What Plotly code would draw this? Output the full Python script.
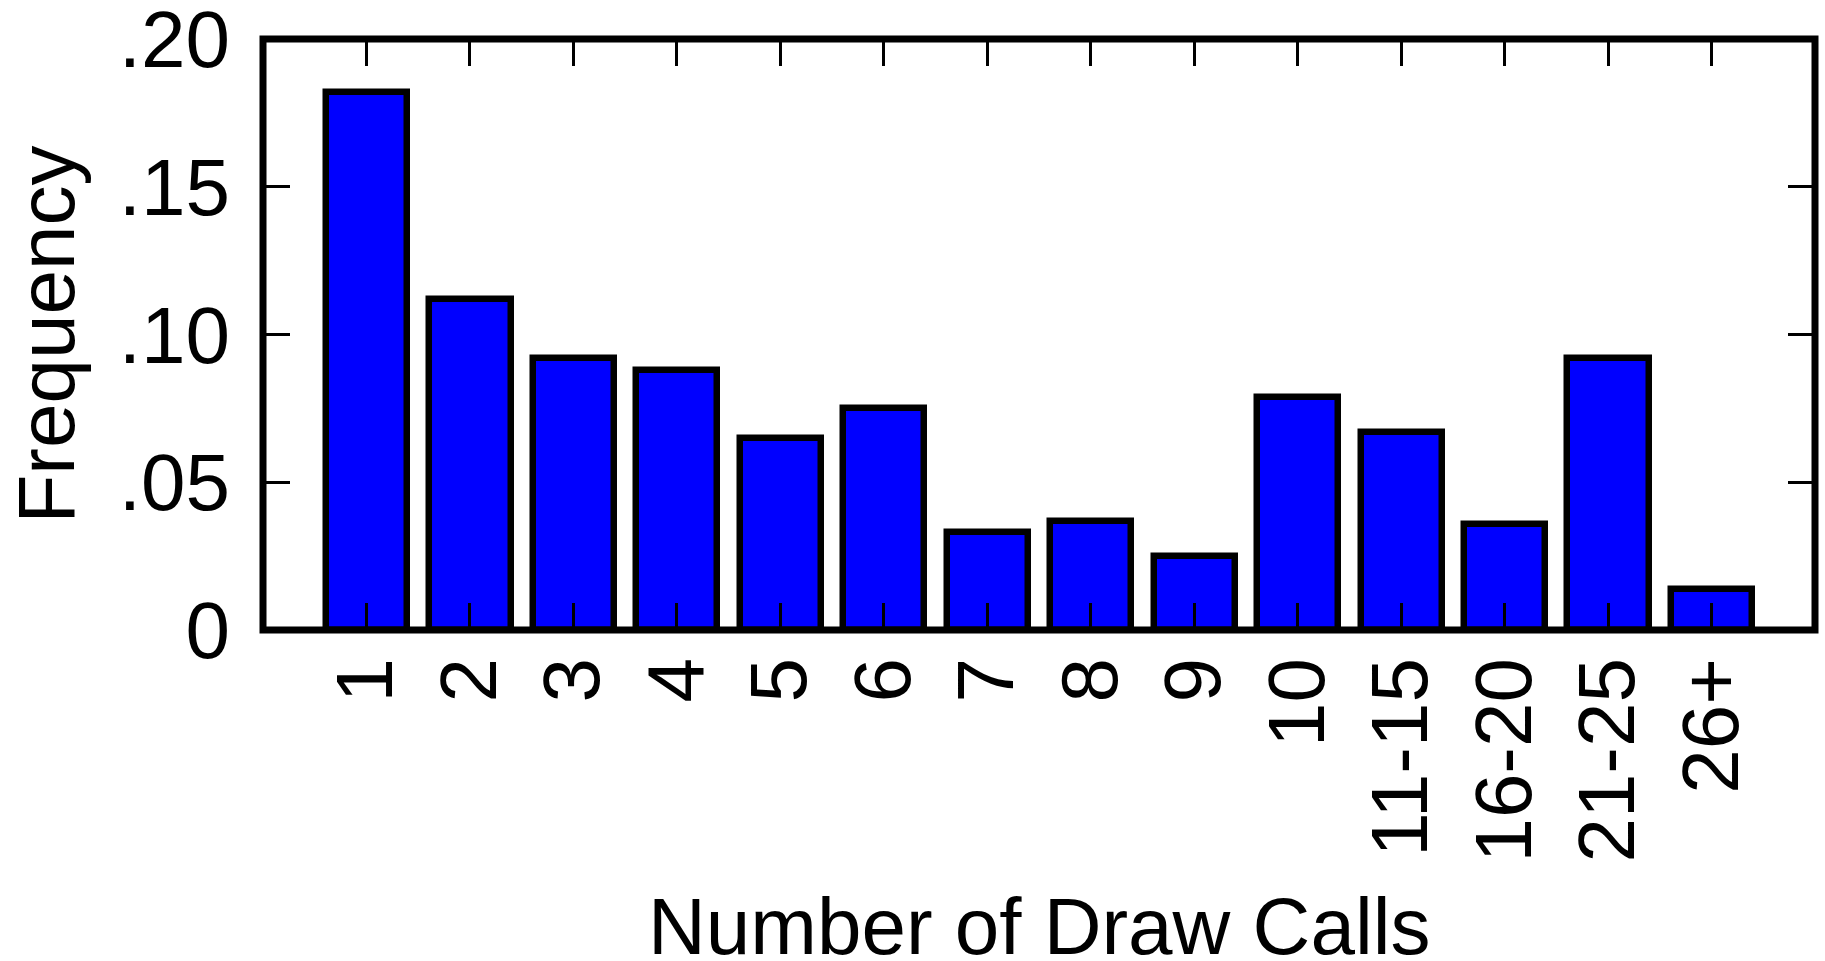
import plotly.graph_objects as go

categories = ["1", "2", "3", "4", "5", "6", "7", "8", "9", "10",
              "11-15", "16-20", "21-25", "26+"]
frequency = [0.182, 0.112, 0.092, 0.088, 0.065, 0.075, 0.033, 0.037,
             0.025, 0.079, 0.067, 0.036, 0.092, 0.014]
y_tickvals = [0, 0.05, 0.10, 0.15, 0.20]
y_ticktext = ["0", ".05", ".10", ".15", ".20"]
x_title = "Number of Draw Calls"
y_title = "Frequency"

FONT = "Liberation Sans, Arial, Helvetica, sans-serif"
L, R, T, B = 263, 10, 39, 331
W, H = 1825, 961
plot_h = H - T - B

fig = go.Figure()
fig.add_trace(go.Bar(
    x=list(range(len(categories))),
    y=frequency,
    width=0.785,
    marker=dict(color="#0000FF", line=dict(color="black", width=6.5)),
    showlegend=False,
))

fig.update_layout(
    width=W, height=H,
    margin=dict(l=L, r=R, t=T, b=B, pad=0, autoexpand=False),
    paper_bgcolor="white", plot_bgcolor="white",
    font=dict(family=FONT, size=80, color="black"),
    bargap=0,
    shapes=[dict(type="rect", xref="paper", yref="paper", x0=0, x1=1, y0=0, y1=1,
                 line=dict(color="black", width=7), layer="above")],
    annotations=[
        dict(text=x_title, xref="paper", yref="paper", x=0.5, y=0,
             yshift=-(926 - (H - B)), xanchor="center", yanchor="middle",
             showarrow=False, font=dict(size=80, family=FONT)),
        dict(text=y_title, xref="paper", yref="paper", x=0, y=0.5,
             xshift=-(L - 46), xanchor="center", yanchor="middle", textangle=-90,
             showarrow=False, font=dict(size=80, family=FONT)),
    ],
)

fig.update_xaxes(
    range=[-1, 14],
    tickmode="array",
    tickvals=list(range(len(categories))),
    ticktext=categories,
    tickangle=-90,
    ticks="inside", ticklen=27, tickwidth=3, tickcolor="black",
    mirror="ticks", showline=False, showgrid=False, zeroline=False,
    tickfont=dict(size=80, family=FONT),
    ticklabelstandoff=11,
    ticklabeloverflow="allow",
    automargin=False,
)
fig.update_yaxes(
    range=[0, 0.2],
    tickmode="array",
    tickvals=y_tickvals,
    ticktext=y_ticktext,
    ticks="inside", ticklen=27, tickwidth=3, tickcolor="black",
    mirror="ticks", showline=False, showgrid=False, zeroline=False,
    tickfont=dict(size=80, family=FONT),
    ticklabelstandoff=32,
    ticklabeloverflow="allow",
    automargin=False,
)

fig.write_html("out.html")
